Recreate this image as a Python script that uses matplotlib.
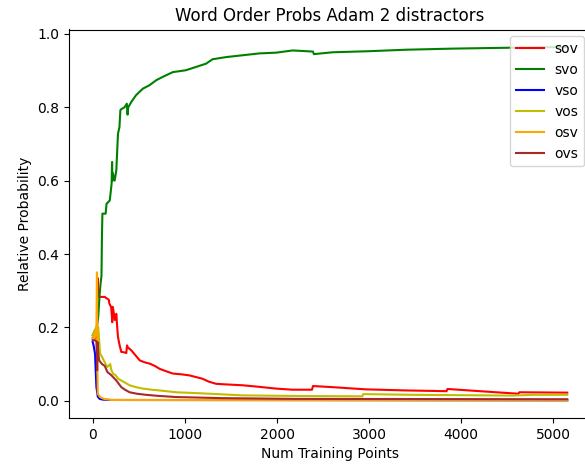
import matplotlib
matplotlib.use("Agg")
import matplotlib.pyplot as plt


TITLE = "Word Order Probs Adam 2 distractors"

sov_x = [0, 45, 52, 58, 70, 100, 130, 175, 180, 200, 208, 212, 216, 222, 240, 256, 266,
         274, 292, 310, 340, 364, 372, 382, 420, 470, 510, 560, 620, 680, 725, 800, 870,
         960, 1050, 1190, 1260, 1340, 1480, 1630, 1800, 1990, 2170, 2380, 2390, 2600, 2960,
         3400, 3840, 3850, 4200, 4620, 4630, 5150]
sov_y = [0.17, 0.17, 0.335, 0.292, 0.283, 0.283, 0.283, 0.275, 0.265, 0.255, 0.23, 0.214,
         0.256, 0.25, 0.22, 0.237, 0.2, 0.174, 0.151, 0.133, 0.132, 0.13, 0.151, 0.145,
         0.137, 0.122, 0.11, 0.105, 0.101, 0.094, 0.087, 0.08, 0.074, 0.072, 0.069, 0.06,
         0.052, 0.046, 0.044, 0.042, 0.038, 0.033, 0.030, 0.030, 0.040, 0.037, 0.031, 0.028,
         0.026, 0.032, 0.026, 0.019, 0.023, 0.022]

svo_x = [0, 20, 45, 60, 75, 85, 95, 100, 105, 140, 150, 185, 205, 210, 214, 218, 238, 256,
         274, 290, 300, 310, 345, 370, 378, 385, 420, 470, 545, 615, 690, 760, 870, 1010,
         1120, 1230, 1300, 1450, 1630, 1810, 1990, 2170, 2390, 2400, 2600, 3000, 3400, 3900,
         4400, 5000, 5150]
svo_y = [0.178, 0.19, 0.2, 0.23, 0.29, 0.32, 0.34, 0.45, 0.51, 0.51, 0.537, 0.546, 0.592,
         0.651, 0.6, 0.62, 0.6, 0.628, 0.728, 0.746, 0.792, 0.795, 0.80, 0.81, 0.78, 0.80,
         0.815, 0.833, 0.851, 0.86, 0.874, 0.883, 0.896, 0.901, 0.91, 0.919, 0.931, 0.937,
         0.942, 0.947, 0.949, 0.955, 0.952, 0.945, 0.95, 0.953, 0.957, 0.96, 0.962, 0.964,
         0.964]

vso_x = [0, 10, 25, 40, 55, 75, 110, 200, 5150]
vso_y = [0.16, 0.15, 0.128, 0.037, 0.011, 0.005, 0.003, 0.002, 0.001]

vos_x = [0, 20, 45, 60, 80, 100, 140, 160, 190, 200, 220, 250, 275, 310, 360, 400, 470,
         545, 640, 725, 905, 1100, 1270, 1630, 2170, 2925, 2935, 3500, 4550, 4780, 5150]
vos_y = [0.178, 0.19, 0.205, 0.2, 0.128, 0.12, 0.1, 0.092, 0.1, 0.085, 0.074, 0.069, 0.06,
         0.055, 0.048, 0.042, 0.037, 0.033, 0.030, 0.028, 0.023, 0.021, 0.019, 0.0145, 0.013,
         0.012, 0.018, 0.016, 0.014, 0.016, 0.016]

osv_x = [0, 20, 40, 46, 50, 55, 80, 120, 200, 5150]
osv_y = [0.17, 0.17, 0.2, 0.35, 0.1, 0.019, 0.01, 0.005, 0.002, 0.001]

ovs_x = [0, 20, 40, 45, 48, 52, 60, 70, 100, 130, 160, 200, 256, 310, 350, 400, 480, 580,
         720, 905, 1400, 2200, 5150]
ovs_y = [0.165, 0.165, 0.162, 0.12, 0.083, 0.16, 0.13, 0.11, 0.1, 0.095, 0.078, 0.07,
         0.055, 0.037, 0.03, 0.023, 0.019, 0.016, 0.013, 0.01, 0.007, 0.005, 0.004]

series = [
    ("sov", sov_x, sov_y, "r"),
    ("svo", svo_x, svo_y, "g"),
    ("vso", vso_x, vso_y, "b"),
    ("vos", vos_x, vos_y, "y"),
    ("osv", osv_x, osv_y, "orange"),
    ("ovs", ovs_x, ovs_y, "brown"),
]


def plot_probs():
    fig = plt.figure(figsize=(5.85, 4.69), dpi=100)
    # axes runs a little past the right edge, like the cropped original
    ax = fig.add_axes([69 / 585, 51 / 469, 522 / 585, 388.5 / 469])

    for label, xs, ys, color in series:
        ax.plot(xs, ys, color=color, label=label, linewidth=1.5)

    ax.set_title(TITLE)
    ax.set_xlabel("Num Training Points")
    ax.set_ylabel("Relative Probability")
    ax.legend(loc="upper right")

    fig.savefig("out.png", dpi=100)


if __name__ == "__main__":
    plot_probs()
